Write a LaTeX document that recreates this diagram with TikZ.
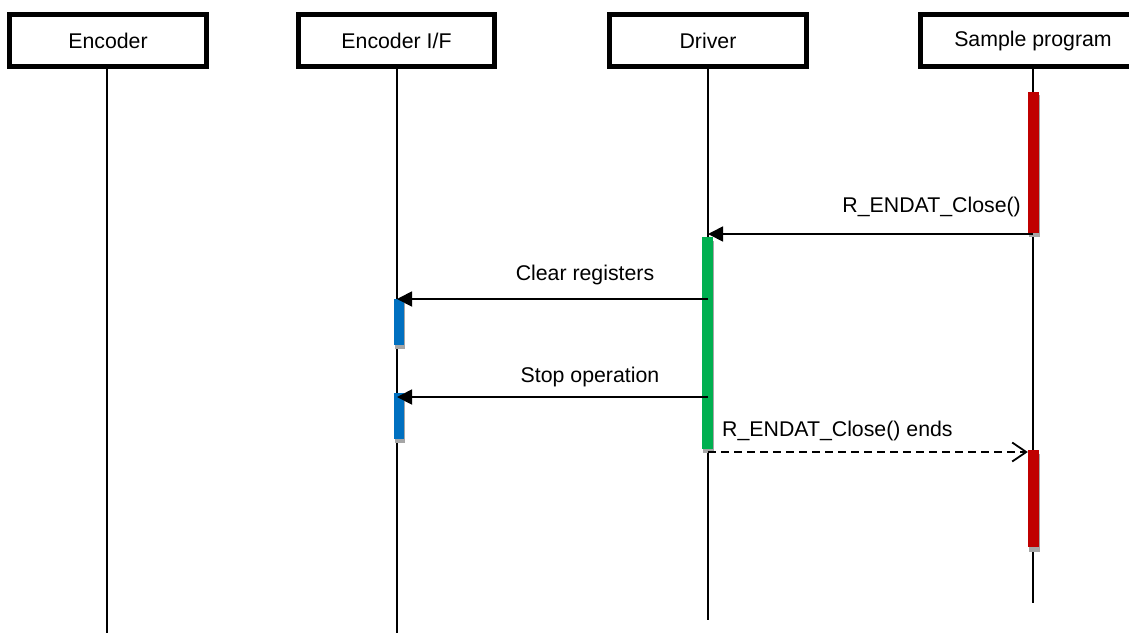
\documentclass[tikz,border=0pt]{standalone}
\usepackage{fontspec}
\setmainfont{Liberation Sans}
\usetikzlibrary{arrows.meta}
\begin{document}
\begin{tikzpicture}[x=1pt,y=-1pt,
  actor/.style={draw=black,line width=5pt,fill=white,inner sep=0pt,minimum height=52pt,font=\fontsize{21.3}{25}\selectfont},
  life/.style={line width=1.8pt},
  bar/.style={inner sep=0pt,minimum width=11pt,draw=none},
  barshadow/.style={fill=black!35},
  msg/.style={line width=1.8pt,-{Triangle[length=15pt,width=15pt]}},
  ret/.style={line width=1.8pt,dash pattern=on 8pt off 5pt,-{Straight Barb[length=14pt,width=19pt,line width=1.8pt]}},
  lbl/.style={font=\fontsize{21.3}{25}\selectfont,inner sep=0pt}
]
\useasboundingbox (0,0) rectangle (1129,633);
% actors
\node[actor,minimum width=197pt] (enc) at (108,40.5) {Encoder};
\node[actor,minimum width=196pt] (encif) at (396.5,40.5) {Encoder I/F};
\node[actor,minimum width=197pt] (drv) at (708,40.5) {Driver};
\node[actor,minimum width=225pt] (smp) at (1033,40.5) {Sample program};
% lifeline ends
\coordinate (encE) at (107,633);
\coordinate (encifE) at (397,633);
\coordinate (drvE) at (708,620);
\coordinate (smpE) at (1033,603);
\draw[life] (enc.south -| encE) -- (encE);
\draw[life] (encif.south -| encifE) -- (encifE);
\draw[life] (drv.south) -- (drvE);
\draw[life] (smp.south) -- (smpE);
% activation bar shadows
\fill[barshadow] (1029,95) rectangle (1040,237);
\fill[barshadow] (703,241) rectangle (714,453);
\fill[barshadow] (395,303) rectangle (405,349);
\fill[barshadow] (395,397) rectangle (405,443);
\fill[barshadow] (1029,454) rectangle (1040,552);
% activation bars
\node[bar,fill={rgb,255:red,192;green,0;blue,0},minimum height=141pt] (r1) at (1033.5,162) {};
\node[bar,fill={rgb,255:red,0;green,176;blue,80},minimum height=212pt] (g1) at (707.5,343) {};
\node[bar,fill={rgb,255:red,0;green,112;blue,192},minimum width=10pt,minimum height=46pt] (b1) at (399,322) {};
\node[bar,fill={rgb,255:red,0;green,112;blue,192},minimum width=10pt,minimum height=46pt] (b2) at (399,416) {};
\node[bar,fill={rgb,255:red,192;green,0;blue,0},minimum height=97pt] (r2) at (1033.5,498.5) {};
% message endpoints
\coordinate (m1s) at (1033,234);
\coordinate (m1e) at (708,234);
\coordinate (m2s) at (708,299);
\coordinate (m2e) at (397,299);
\coordinate (m3s) at (708,397);
\coordinate (m3e) at (397,397);
\coordinate (m4s) at (708,452);
\draw[msg] (m1s) -- (m1e);
\draw[msg] (m2s) -- (m2e);
\draw[msg] (m3s) -- (m3e);
\draw[ret] (m4s) -- (m4s -| r2.west);
% labels
\node[lbl,anchor=east] (l1) at (1021,207) {R\_ENDAT\_Close()};
\node[lbl] (l2) at (585,275) {Clear registers};
\node[lbl] (l3) at (590,377) {Stop operation};
\node[lbl,anchor=west] (l4) at (722,431) {R\_ENDAT\_Close() ends};
\end{tikzpicture}
\end{document}
